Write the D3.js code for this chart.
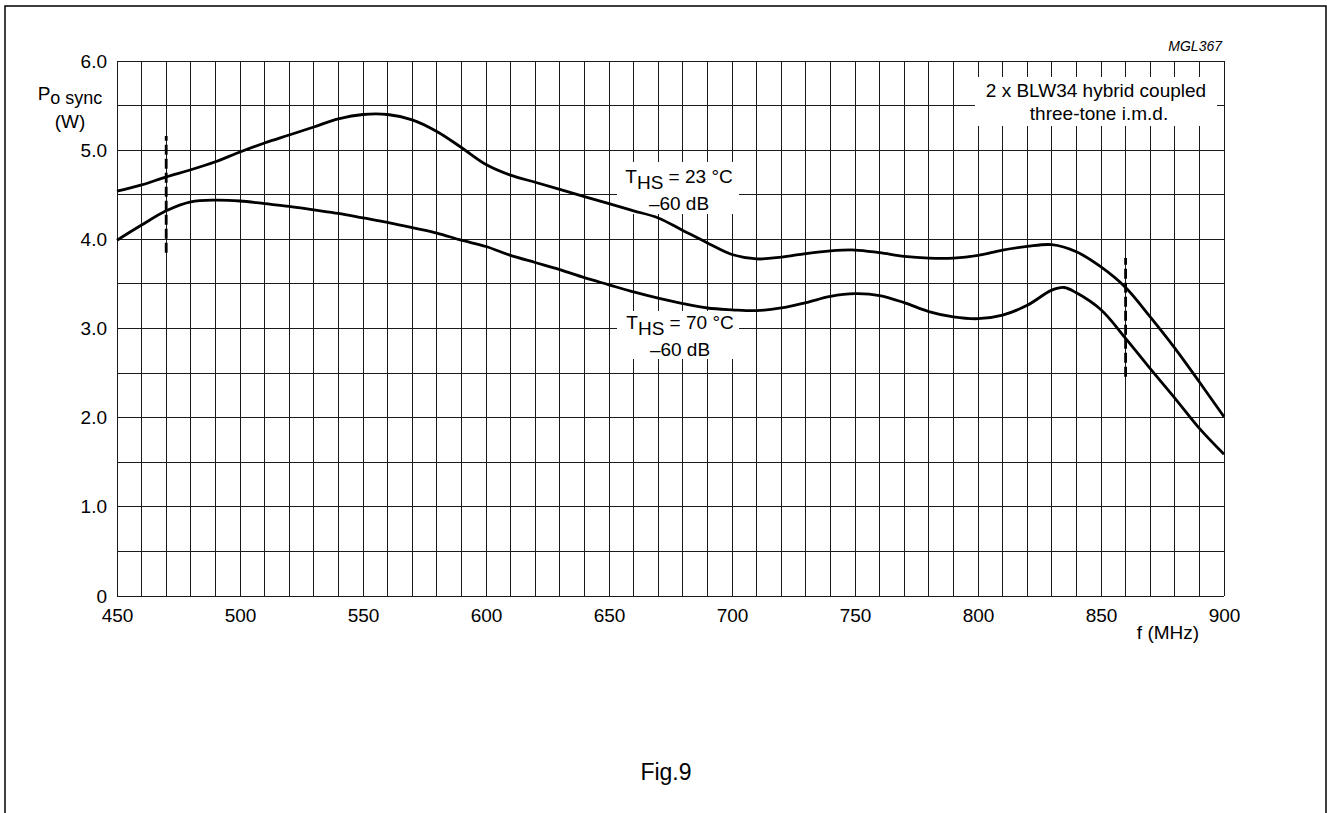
<!DOCTYPE html>
<html>
<head>
<meta charset="utf-8">
<script src="https://cdn.jsdelivr.net/npm/d3@7"></script>
<style>
  html, body { margin: 0; padding: 0; background: #fff; }
  svg { display: block; font-family: "Liberation Sans", Arial, sans-serif; }
</style>
</head>
<body>
<svg id="chart" width="1327" height="813"></svg>
<script>
// ---- data ----
const freqTicks = [450, 500, 550, 600, 650, 700, 750, 800, 850, 900];
const powerTicks = [0, 1, 2, 3, 4, 5, 6];
const powerTickLabels = ["0", "1.0", "2.0", "3.0", "4.0", "5.0", "6.0"];

const freq23 = [450,460,470,480,490,500,510,520,530,540,550,560,570,580,590,600,610,620,630,640,650,660,670,680,690,700,710,720,730,740,750,760,770,780,790,800,810,820,830,840,850,860,870,880,890,900];
const power23 = [4.54,4.61,4.70,4.78,4.87,4.98,5.08,5.17,5.26,5.35,5.40,5.40,5.34,5.21,5.03,4.84,4.72,4.64,4.56,4.48,4.40,4.32,4.24,4.10,3.96,3.83,3.78,3.80,3.84,3.87,3.88,3.85,3.81,3.79,3.79,3.82,3.88,3.92,3.94,3.86,3.69,3.46,3.13,2.78,2.40,2.01];

const freq70 = [450,460,470,480,490,500,510,520,530,540,550,560,570,580,590,600,610,620,630,640,650,660,670,680,690,700,710,720,730,740,750,760,770,780,790,800,810,820,830,835,840,850,860,870,880,890,900];
const power70 = [3.99,4.16,4.32,4.42,4.44,4.43,4.40,4.37,4.33,4.29,4.24,4.19,4.13,4.07,3.99,3.92,3.82,3.74,3.66,3.57,3.49,3.41,3.34,3.28,3.23,3.21,3.20,3.23,3.29,3.36,3.39,3.37,3.29,3.19,3.13,3.11,3.15,3.26,3.43,3.46,3.40,3.21,2.89,2.55,2.22,1.88,1.59];

// dashed limit markers: [freq, from, to]
const markerFreq = [470, 860];
const markerFrom = [3.85, 2.46];
const markerTo = [5.16, 3.79];

// ---- layout ----
const svg = d3.select("#chart");
const x = d3.scaleLinear().domain([450, 900]).range([117, 1224]);
const y = d3.scaleLinear().domain([0, 6]).range([596, 61]);
const FS = 19;

// outer frame (open at bottom)
svg.append("path")
  .attr("d", "M5,813 L5,6 L1326,6 L1326,813")
  .attr("fill", "none").attr("stroke", "#000").attr("stroke-width", 1.5);

// grid
const grid = svg.append("g").attr("stroke", "#1a1a1a").attr("stroke-width", 1).attr("shape-rendering", "crispEdges");
const vGrid = d3.range(450, 901, 10);
const hGrid = d3.range(0, 6.01, 0.5);
grid.selectAll("line.v").data(vGrid).join("line")
  .attr("x1", d => x(d)).attr("x2", d => x(d))
  .attr("y1", y(0)).attr("y2", y(6));
grid.selectAll("line.h").data(hGrid).join("line")
  .attr("x1", x(450)).attr("x2", x(900))
  .attr("y1", d => y(d)).attr("y2", d => y(d));

// axes labels via d3 axes
const xAxis = d3.axisBottom(x).tickValues(freqTicks).tickSize(0).tickPadding(13).tickFormat(d3.format("d"));
const gx = svg.append("g").attr("transform", `translate(0,${y(0)})`).call(xAxis);
gx.select(".domain").remove();
gx.selectAll("text").attr("font-size", FS).attr("fill", "#000").attr("font-family", "Liberation Sans, Arial, sans-serif");

const yAxis = d3.axisLeft(y).tickValues(powerTicks).tickSize(0).tickPadding(10)
  .tickFormat((d, i) => powerTickLabels[i]);
const gy = svg.append("g").attr("transform", `translate(${x(450)},0)`).call(yAxis);
gy.select(".domain").remove();
gy.selectAll("text").attr("font-size", FS).attr("fill", "#000").attr("font-family", "Liberation Sans, Arial, sans-serif");

// axis titles
const yt = svg.append("text").attr("x", 70).attr("y", 100).attr("text-anchor", "middle").attr("font-size", FS);
yt.append("tspan").text("P");
yt.append("tspan").attr("dy", 4).attr("font-size", 18).text("o sync");
svg.append("text").attr("x", 70).attr("y", 128).attr("text-anchor", "middle").attr("font-size", FS).text("(W)");

svg.append("text").attr("x", 1168).attr("y", 639).attr("text-anchor", "middle").attr("font-size", FS).text("f (MHz)");

svg.append("text").attr("x", 1222).attr("y", 51).attr("text-anchor", "end")
  .attr("font-size", 14).attr("font-style", "italic").text("MGL367");

svg.append("text").attr("x", 666).attr("y", 780).attr("text-anchor", "middle").attr("font-size", 23).text("Fig.9");

// annotation boxes
function box(x0, y0, w, h) {
  svg.append("rect").attr("x", x0).attr("y", y0).attr("width", w).attr("height", h).attr("fill", "#fff");
}
box(975, 77, 242, 49);
box(617, 162, 122, 52);
box(617, 311, 122, 48);

svg.append("text").attr("x", 1096).attr("y", 97).attr("text-anchor", "middle").attr("font-size", FS).text("2 x BLW34 hybrid coupled");
svg.append("text").attr("x", 1099).attr("y", 120).attr("text-anchor", "middle").attr("font-size", FS).text("three-tone i.m.d.");

function thsLabel(cx, by, temp) {
  const t = svg.append("text").attr("x", cx).attr("y", by).attr("text-anchor", "middle").attr("font-size", FS);
  t.append("tspan").text("T");
  t.append("tspan").attr("dy", 6).text("HS");
  t.append("tspan").attr("dy", -6).text(" = " + temp + " \u00B0C");
  svg.append("text").attr("x", cx).attr("y", by + 27).attr("text-anchor", "middle").attr("font-size", FS).text("\u201360 dB");
}
thsLabel(679, 183, 23);
thsLabel(680, 329, 70);

// curves
const line = d3.line().x(d => x(d[0])).y(d => y(d[1])).curve(d3.curveCatmullRom.alpha(0.5));
svg.append("path").datum(d3.zip(freq23, power23)).attr("d", line)
  .attr("fill", "none").attr("stroke", "#000").attr("stroke-width", 2.8);
svg.append("path").datum(d3.zip(freq70, power70)).attr("d", line)
  .attr("fill", "none").attr("stroke", "#000").attr("stroke-width", 2.8);

// dashed markers
svg.selectAll("line.marker").data(markerFreq).join("line")
  .attr("x1", d => x(d)).attr("x2", d => x(d))
  .attr("y1", (d, i) => y(markerFrom[i])).attr("y2", (d, i) => y(markerTo[i]))
  .attr("stroke", "#000").attr("stroke-width", 2.8).attr("stroke-dasharray", "10,4");
</script>
</body>
</html>
